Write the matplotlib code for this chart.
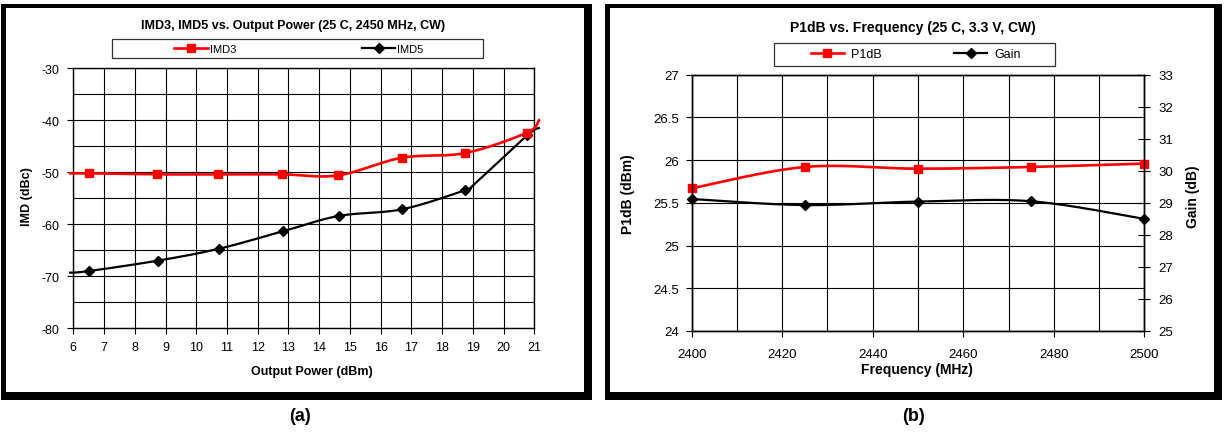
import numpy as np
import matplotlib
matplotlib.use("Agg")
import matplotlib.pyplot as plt
from matplotlib.patches import Rectangle
from matplotlib.lines import Line2D

plt.rcParams['font.family'] = ['Liberation Sans', 'DejaVu Sans']

# ---------------- data ----------------
# (a) IMD vs output power (first / last point lie just outside the axis range)
imd_pout = [5.9, 6.5, 8.73, 10.72, 12.8, 14.61, 16.69, 18.75, 20.75, 21.15]
imd3 = [-50.2, -50.2, -50.4, -50.4, -50.4, -50.6, -47.2, -46.3, -42.4, -40.0]
imd5_pout = [5.9, 6.5, 8.74, 10.74, 12.82, 14.63, 16.71, 18.76, 19.03, 20.77, 21.15]
imd5 = [-69.3, -69.0, -67.0, -64.7, -61.35, -58.4, -57.1, -53.4, -52.4, -42.9, -41.5]
imd3_marked = [1, 2, 3, 4, 5, 6, 7, 8]      # indices of the points with markers
imd5_marked = [1, 2, 3, 4, 5, 6, 7, 9]

# (b) P1dB and gain vs frequency
freq = [2400, 2425, 2450, 2475, 2500]
p1db = [25.67, 25.92, 25.90, 25.92, 25.96]
gain = [29.12, 28.93, 29.04, 29.05, 28.50]

x_ticks_a = list(range(6, 22))
y_ticks_a = [-30, -40, -50, -60, -70, -80]
x_ticks_b = [2400, 2420, 2440, 2460, 2480, 2500]
y_ticks_b = [24, 24.5, 25, 25.5, 26, 26.5, 27]
y_labels_b = ['24', '24.5', '25', '25.5', '26', '26.5', '27']
y2_ticks_b = [25, 26, 27, 28, 29, 30, 31, 32, 33]

W, H = 1225, 439
fig = plt.figure(figsize=(W / 100, H / 100), dpi=100)
fig.patch.set_facecolor('white')


def frect(x0, y0, x1, y1):
    return [x0 / W, 1 - y1 / H, (x1 - x0) / W, (y1 - y0) / H]


def box(x0, y0, x1, y1, **kw):
    r = frect(x0, y0, x1, y1)
    fig.add_artist(Rectangle((r[0], r[1]), r[2], r[3], transform=fig.transFigure, **kw))


def smooth(ax, x, y, n=40):
    # Excel-like smoothed line (Catmull-Rom Bezier in screen space)
    bb = ax.get_window_extent()
    x0, x1 = ax.get_xlim()
    y0, y1 = ax.get_ylim()
    sx = bb.width / (x1 - x0)
    sy = bb.height / (y1 - y0)
    P = np.column_stack([np.asarray(x, float) * sx, np.asarray(y, float) * sy])
    out = []
    t = np.linspace(0, 1, n)[:, None]
    for i in range(len(P) - 1):
        p0 = P[i - 1] if i > 0 else P[i]
        p1, p2 = P[i], P[i + 1]
        p3 = P[i + 2] if i + 2 < len(P) else P[i + 1]
        c1 = p1 + (p2 - p0) / 6
        c2 = p2 - (p3 - p1) / 6
        seg = (1 - t) ** 3 * p1 + 3 * (1 - t) ** 2 * t * c1 + 3 * (1 - t) * t ** 2 * c2 + t ** 3 * p2
        out.append(seg if i == 0 else seg[1:])
    out = np.vstack(out)
    return out[:, 0] / sx, out[:, 1] / sy


# ---------------- frames ----------------
for (a, b) in [(1, 592), (605, 1222)]:
    box(a, 5, b, 9, color='black', lw=0)
    box(a, 5, a + 5, 401, color='black', lw=0)
    box(b - 8, 5, b, 401, color='black', lw=0)
    box(a, 393, b, 401, color='black', lw=0)

RED = '#FF0000'

# ---------------- panel (a) ----------------
ax1 = fig.add_axes(frect(73.3, 69.3, 534.3, 329.3))
ax1.set_xlim(6, 21)
ax1.set_ylim(-80, -30)
ax1.set_xticks(x_ticks_a)
ax1.set_xticklabels([str(v) for v in x_ticks_a])
ax1.set_yticks(y_ticks_a)
ax1.set_yticklabels([str(v) for v in y_ticks_a])
ax1.set_yticks(np.arange(-75, -30, 10), minor=True)
ax1.tick_params(axis='y', which='minor', length=0)
ax1.tick_params(axis='both', which='major', direction='out', length=4, width=0.8,
                pad=6, labelsize=9, colors='black')
ax1.tick_params(axis='x', pad=5)
ax1.grid(True, which='both', color='black', lw=0.8)
ax1.set_axisbelow(True)
for s in ax1.spines.values():
    s.set_color('black')
    s.set_linewidth(1.0)

xs, ys = smooth(ax1, imd5_pout, imd5)
ax1.plot(xs, ys, color='black', lw=1.6, clip_on=False, zorder=3)
ax1.plot([imd5_pout[i] for i in imd5_marked], [imd5[i] for i in imd5_marked], ls='none',
         marker='D', ms=5, color='black', zorder=4, clip_on=False)
xs, ys = smooth(ax1, imd_pout, imd3)
ax1.plot(xs, ys, color=RED, lw=1.9, clip_on=False, zorder=3)
ax1.plot([imd_pout[i] for i in imd3_marked], [imd3[i] for i in imd3_marked], ls='none',
         marker='s', ms=5.5, color=RED, zorder=4, clip_on=False)

fig.text(293 / W, 1 - 26.5 / H, 'IMD3, IMD5 vs. Output Power (25 C, 2450 MHz, CW)',
         ha='center', va='center', fontsize=9, fontweight='bold')
fig.text(27 / W, 1 - 197 / H, 'IMD (dBc)', ha='center', va='center', rotation=90,
         fontsize=9, fontweight='bold')
fig.text(312 / W, 1 - 372 / H, 'Output Power (dBm)', ha='center', va='center',
         fontsize=9, fontweight='bold')
fig.text(300 / W, 1 - 417 / H, '(a)', ha='center', va='center', fontsize=13, fontweight='bold')

box(112, 40, 483, 59, fill=False, edgecolor='#333333', lw=0.9)
h1 = [Line2D([], [], color=RED, lw=1.9, marker='s', ms=5.5),
      Line2D([], [], color='black', lw=1.6, marker='D', ms=5)]
fig.legend(h1, ['IMD3', 'IMD5'], ncol=2, loc='center',
           bbox_to_anchor=(299 / W, 1 - 50 / H), frameon=False, fontsize=8,
           handlelength=3.0, handletextpad=0.2, columnspacing=11.3, borderpad=0)

# ---------------- panel (b) ----------------
ax2 = fig.add_axes(frect(691.7, 75.7, 1144.3, 332))
ax2.set_xlim(2400, 2500)
ax2.set_ylim(24, 27)
ax2.set_xticks(x_ticks_b)
ax2.set_xticklabels([str(v) for v in x_ticks_b])
ax2.set_xticks(np.arange(2410, 2500, 20), minor=True)
ax2.set_yticks(y_ticks_b)
ax2.set_yticklabels(y_labels_b)
ax2.tick_params(axis='x', which='minor', length=0)
ax2.tick_params(axis='both', which='major', direction='out', length=4, width=0.8,
                pad=5, labelsize=9.5, colors='black')
ax2.tick_params(axis='x', pad=8)
ax2.grid(True, which='both', color='black', lw=0.8)
ax2.set_axisbelow(True)
for s in ax2.spines.values():
    s.set_color('black')
    s.set_linewidth(1.0)

ax2b = ax2.twinx()
ax2b.set_ylim(25, 33)
ax2b.set_yticks(y2_ticks_b)
ax2b.set_yticklabels([str(v) for v in y2_ticks_b])
ax2b.tick_params(axis='y', direction='inout', length=8, width=0.8, pad=6,
                 labelsize=9.5, colors='black')
for s in ax2b.spines.values():
    s.set_color('black')
    s.set_linewidth(1.0)

xs, ys = smooth(ax2b, freq, gain)
ax2b.plot(xs, ys, color='black', lw=1.6, clip_on=False, zorder=3)
ax2b.plot(freq, gain, ls='none', marker='D', ms=5, color='black', zorder=4, clip_on=False)
xs, ys = smooth(ax2, freq, p1db)
ax2.plot(xs, ys, color=RED, lw=1.9, clip_on=False, zorder=3)
ax2.plot(freq, p1db, ls='none', marker='s', ms=5.5, color=RED, zorder=4, clip_on=False)

fig.text(913 / W, 1 - 28.3 / H, 'P1dB vs. Frequency (25 C, 3.3 V, CW)',
         ha='center', va='center', fontsize=10, fontweight='bold')
fig.text(628 / W, 1 - 194 / H, 'P1dB (dBm)', ha='center', va='center', rotation=90,
         fontsize=10, fontweight='bold')
fig.text(1193 / W, 1 - 197 / H, 'Gain (dB)', ha='center', va='center', rotation=90,
         fontsize=10, fontweight='bold')
fig.text(917 / W, 1 - 370 / H, 'Frequency (MHz)', ha='center', va='center',
         fontsize=10, fontweight='bold')
fig.text(913 / W, 1 - 417 / H, '(b)', ha='center', va='center', fontsize=13, fontweight='bold')

box(774, 44, 1055, 67, fill=False, edgecolor='#333333', lw=0.9)
h2 = [Line2D([], [], color=RED, lw=1.9, marker='s', ms=5.5),
      Line2D([], [], color='black', lw=1.6, marker='D', ms=5)]
fig.legend(h2, ['P1dB', 'Gain'], ncol=2, loc='center',
           bbox_to_anchor=(916 / W, 1 - 55.5 / H), frameon=False, fontsize=9,
           handlelength=2.6, handletextpad=0.6, columnspacing=5.8, borderpad=0)

fig.savefig('out.png', dpi=100, facecolor='white')
